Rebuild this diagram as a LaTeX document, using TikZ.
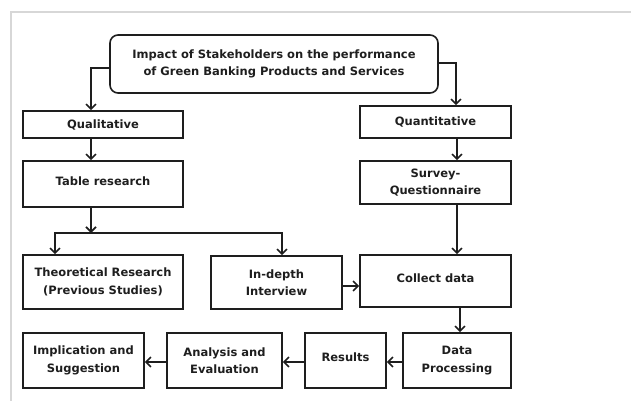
\documentclass[tikz,border=0pt]{standalone}
\usepackage{fontspec}
\setmainfont{DejaVu Sans}
\usepackage{tikz}
\usetikzlibrary{calc}
\usetikzlibrary{arrows.meta}
\definecolor{ink}{RGB}{30,30,30}
\definecolor{frame}{RGB}{215,215,215}

\begin{document}
\begin{tikzpicture}[x=1pt,y=-1pt,
        box/.style={draw=ink,text=ink,line width=1.6pt,align=center,inner sep=0pt,
            font=\fontsize{11.5}{17.5}\selectfont\bfseries},
        arr/.style={draw=ink,line width=1.6pt,-{Straight Barb[length=5pt,width=10pt,line width=1.6pt]}}]
            \useasboundingbox (0,0) rectangle (631,401);
            \draw[frame,line width=2pt] (11,401) -- (11,12) -- (631,12);

            \node[box,rounded corners=8pt,minimum width=328pt,minimum height=58pt] (topic) at (274,64)
                {Impact of Stakeholders on the performance\\of Green Banking Products and Services};
            \node[box,minimum width=160pt,minimum height=27pt] (qual) at (103,124.5) {Qualitative};
            \node[box,minimum width=151pt,minimum height=32pt] (quant) at (435.5,122) {Quantitative};
            \node[box,minimum width=160pt,minimum height=46pt] (table) at (103,184) {\raisebox{6pt}{Table research}};
            \node[box,minimum width=151pt,minimum height=43pt] (survey) at (435.5,182.5) {Survey-\\Questionnaire};
            \node[box,minimum width=160pt,minimum height=54pt] (theo) at (103,282) {Theoretical Research\\(Previous Studies)};
            \node[box,minimum width=131pt,minimum height=53pt] (indepth) at (276.5,282.5) {In-depth\\Interview};
            \node[box,minimum width=151pt,minimum height=52pt] (collect) at (435.5,281) {\raisebox{6pt}{Collect data}};
            \node[box,minimum width=108pt,minimum height=55pt] (proc) at (457,360.5) {Data\\Processing};
            \node[box,minimum width=81pt,minimum height=55pt] (results) at (345.5,360.5) {\raisebox{6pt}{Results}};
            \node[box,minimum width=115pt,minimum height=55pt] (anal) at (224.5,360.5) {Analysis and\\Evaluation};
            \node[box,minimum width=121pt,minimum height=55pt] (impl) at (83.5,360.5) {Implication and\\Suggestion};

            \coordinate (split) at (91,233);

            \draw[arr] ([yshift=-4pt]topic.west) -| ([xshift=-12pt]qual.north);
            \draw[arr] ([yshift=1pt]topic.east) -| ([xshift=20.5pt]quant.north);
            \draw[arr] ([xshift=-12pt]qual.south) -- ([xshift=-12pt]table.north);
            \draw[arr] ([xshift=-12pt]table.south) -- (split);
            \draw[arr] (split) -| ([xshift=-48pt]theo.north);
            \draw[arr] (split) -| ([xshift=5.5pt]indepth.north);
            \draw[arr] ([xshift=21.5pt]quant.south) -- ([xshift=21.5pt]survey.north);
            \draw[arr] ([xshift=21.5pt]survey.south) -- ([xshift=21.5pt]collect.north);
            \draw[arr] ([yshift=-3.5pt]indepth.east) -- ([yshift=-5pt]collect.west);
            \draw[arr] ([xshift=24.5pt]collect.south) -- ([xshift=3pt]proc.north);
            \draw[arr] ([yshift=-1.5pt]proc.west) -- ([yshift=-1.5pt]results.east);
            \draw[arr] ([yshift=-1.5pt]results.west) -- ([yshift=-1.5pt]anal.east);
            \draw[arr] ([yshift=-1.5pt]anal.west) -- ([yshift=-1.5pt]impl.east);

        \end{tikzpicture}
\end{document}
